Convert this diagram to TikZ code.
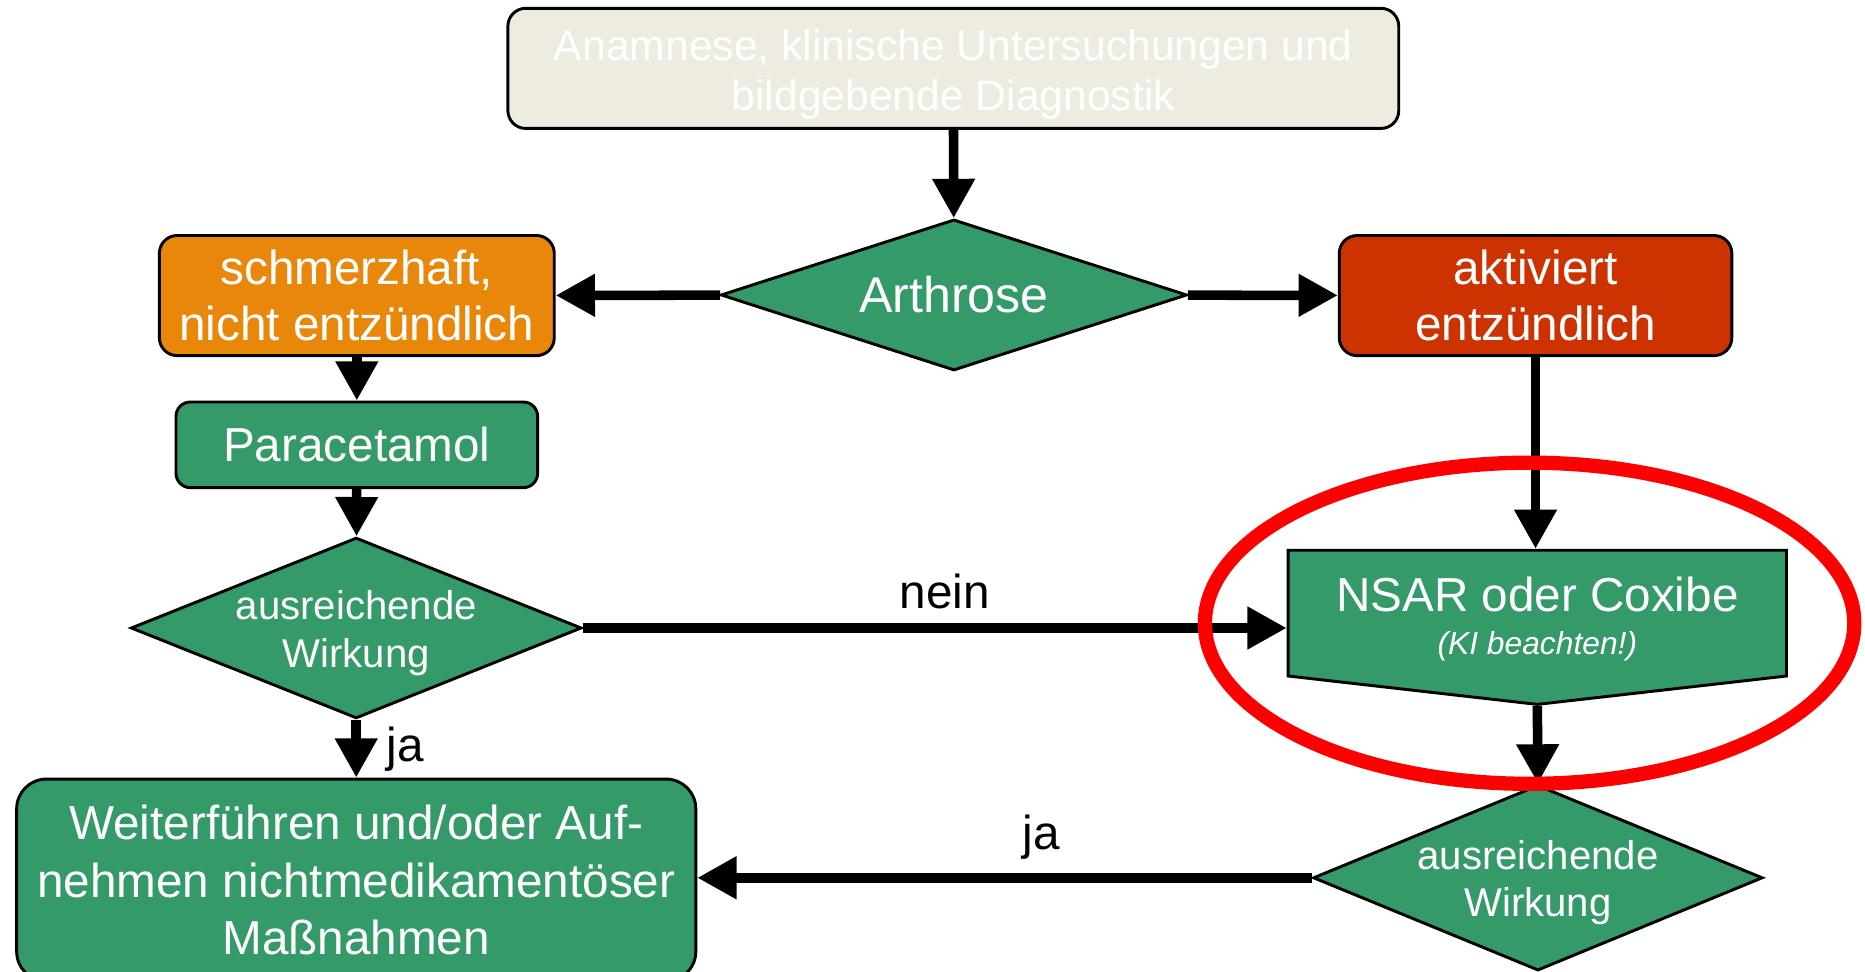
\documentclass[tikz,border=0pt]{standalone}
\usepackage{fontspec}
\setmainfont{Liberation Sans}
\usetikzlibrary{arrows.meta, shapes.geometric, shapes.symbols}

\definecolor{ppgreen}{HTML}{349A69}
\definecolor{pporange}{HTML}{E8870A}
\definecolor{ppred}{HTML}{CC3300}
\definecolor{ppbeige}{HTML}{EEEBE1}

\begin{document}
\begin{tikzpicture}[
        mybox/.style={draw, rounded corners=0.15cm, text=white, align=center, line width=0.7pt, inner sep=0pt},
        mydiam/.style={draw, diamond, fill=ppgreen, text=white, align=center, line width=0.7pt, inner sep=-2pt},
        myarrow/.style={line width=0.08cm, -{Triangle[length=0.33cm, width=0.34cm]}}
        ]
    % Define styles
    \tikzstyle{big} = [font=\fontsize{11.4}{13.4}\selectfont]
    \tikzstyle{small} = [font=\fontsize{9.6}{11.4}\selectfont]

    \useasboundingbox (0, 0) rectangle (15.68, 8.17);
    \clip (0, 0) rectangle (15.68, 8.17);

    % Define start node and first decision
    \node[mybox, fill=ppbeige, minimum width=7.49cm, minimum height=1.01cm, font=\fontsize{10.2}{12}\selectfont] (anam) at (8.015, 7.595) {\rule{0pt}{10.3pt}Anamnese, klinische Untersuchungen und\\bildgebende Diagnostik};
    \node[mydiam, aspect=3.09, minimum width=3.92cm, minimum height=1.27cm, font=\fontsize{12}{14}\selectfont] (arth) at (8.02, 5.69) {Arthrose};

    % Define left branch
    \node[mybox, big, fill=pporange, minimum width=3.32cm, minimum height=1.01cm] (pain) at (3.00, 5.685) {schmerzhaft,\\nicht entzündlich};
    \node[mybox, big, fill=ppgreen, rounded corners=0.12cm, minimum width=3.04cm, minimum height=0.72cm] (para) at (3.00, 4.43) {Paracetamol};
    \node[mydiam, small, aspect=2.49, minimum width=3.79cm, minimum height=1.52cm] (dec1) at (2.995, 2.89) {\rule{0pt}{9.3pt}ausreichende\\Wirkung};
    \node[mybox, fill=ppgreen, rounded corners=0.25cm, minimum width=5.71cm, minimum height=1.70cm, font=\fontsize{11.4}{13.8}\selectfont] (cont) at (2.995, 0.77) {Weiterführen und/oder Auf-\\nehmen nichtmedikamentöser\\Maßnahmen};

    % Define right branch
    \node[mybox, big, fill=ppred, minimum width=3.30cm, minimum height=1.01cm] (act) at (12.91, 5.685) {aktiviert\\entzündlich};
    \node[draw, signal, signal to=south, signal pointer angle=167, fill=ppgreen, text=white, align=center, line width=0.7pt, inner sep=0pt, minimum width=4.19cm, minimum height=1.25cm, big] (nsar) at (12.925, 3.015) {\rule{0pt}{11pt}NSAR oder Coxibe\\[-3pt]{\fontsize{7.6}{9}\selectfont\itshape (KI beachten!)}};
    \node[mydiam, small, aspect=2.42, minimum width=3.78cm, minimum height=1.56cm] (dec2) at (12.93, 0.79) {\rule{0pt}{9.3pt}ausreichende\\Wirkung};

    % Draw edges from top to bottom
    \draw[myarrow] (anam) -- (arth);
    \draw[myarrow] (arth) -- (pain);
    \draw[myarrow] (arth) -- (act);
    \draw[myarrow] (pain) -- (para);
    \draw[myarrow] (para) -- (dec1);
    \draw[myarrow] (dec1) -- (cont) node[midway, right=0.1cm, big, text=black] {ja};
    \draw[myarrow] (act.south) -- (act.south |- nsar.north);
    \draw[myarrow] (nsar.south) -- (dec2.north);

    % Draw the edges across
    \draw[myarrow] (dec1.east) -- (dec1.east -| nsar.west) node[pos=0.514, above, big, text=black] {nein};
    \draw[myarrow] (dec2.west) -- (dec2.west -| cont.east) node[pos=0.44, above, big, text=black] {ja};

    % Red ring round the NSAR step
    \node[draw=red, ellipse, line width=0.12cm, minimum width=5.46cm, minimum height=2.70cm] (ring) at (12.86, 2.93) {};

\end{tikzpicture}
\end{document}
